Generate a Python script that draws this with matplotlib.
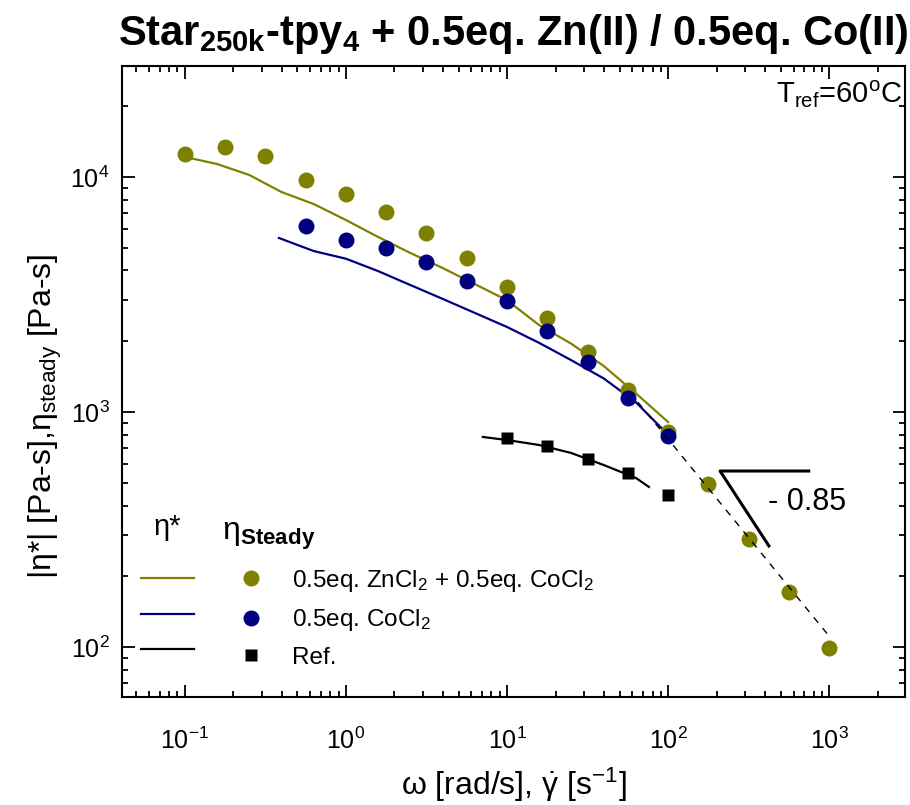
import matplotlib
matplotlib.use("Agg")
import matplotlib.pyplot as plt
from matplotlib.lines import Line2D
import numpy as np

police = 'Liberation Sans'
plt.rcParams['font.family'] = [police, 'DejaVu Sans']
plt.rcParams['mathtext.fontset'] = 'custom'
plt.rcParams['mathtext.rm'] = police
plt.rcParams['mathtext.it'] = police + ':italic'
plt.rcParams['mathtext.bf'] = police + ':bold'
plt.rcParams['mathtext.default'] = 'regular'

# --- données ---
# eta* (lignes)
w_zn = [0.1, 0.158, 0.251, 0.398, 0.631, 1, 1.58, 2.51, 3.98, 6.31, 10, 15.8, 25.1, 39.8, 63.1, 100]
eta_zn = [12170, 11360, 10200, 8630, 7670, 6560, 5560, 4750, 4100, 3500, 2990, 2345, 1950, 1570, 1200, 906]

w_co = [0.384, 0.631, 1, 1.58, 2.51, 3.98, 6.31, 10, 15.8, 25.1, 39.8, 63.1, 100]
eta_co = [5500, 4840, 4490, 3980, 3470, 3030, 2640, 2300, 1970, 1660, 1390, 1100, 800]

w_ref = [7.08, 10, 15.8, 25.1, 39.8, 63.1, 76]
eta_ref = [783, 760, 724, 669, 595, 524, 480]

# eta steady (symboles)
g_zn = [0.1, 0.178, 0.316, 0.562, 1, 1.78, 3.16, 5.62, 10, 17.8, 31.6, 56.2, 100, 178, 316, 562, 1000]
st_zn = [12500, 13400, 12300, 9700, 8460, 7100, 5780, 4520, 3400, 2510, 1800, 1240, 822, 494, 289, 171, 99]

g_co = [0.562, 1, 1.78, 3.16, 5.62, 10, 17.8, 31.6, 56.2, 100]
st_co = [6190, 5400, 4990, 4350, 3610, 2970, 2210, 1630, 1150, 790]

g_ref = [10, 17.8, 31.6, 56.2, 100]
st_ref = [774, 716, 631, 550, 444]

# droite en pointillés et triangle de pente
fit_x = [65, 970]
fit_y = [1100, 114]
tri_x = [762, 210, 427]
tri_y = [561, 561, 266]

olive = '#808000'
navy = '#000080'

fig = plt.figure(figsize=(9.1, 8.05), dpi=100)
ax = fig.add_axes([0.134, 0.134, 0.8605, 0.784])

ax.plot(w_zn, eta_zn, color=olive, lw=1.6)
ax.plot(w_co, eta_co, color=navy, lw=1.6)
ax.plot(w_ref, eta_ref, color='black', lw=1.6)

ax.plot(fit_x, fit_y, color='black', lw=1.0, ls=(0, (5, 5)), zorder=4)

ax.plot(g_zn, st_zn, 'o', color=olive, ms=11.5, mec='none', zorder=3)
ax.plot(g_co, st_co, 'o', color=navy, ms=11.5, mec='none', zorder=3)
ax.plot(g_ref, st_ref, 's', color='black', ms=8.5, mec='none', zorder=3)

ax.plot(tri_x, tri_y, color='black', lw=2.2, solid_capstyle='butt')
ax.text(0.875, 0.309, '- 0.85', transform=ax.transAxes, fontsize=22,
        ha='center', va='center')

ax.set_xscale('log')
ax.set_yscale('log')
ax.set_xlim(10**-1.39, 10**3.47)
ax.set_ylim(10**1.787, 10**4.472)

for s in ax.spines.values():
    s.set_linewidth(1.5)
ax.tick_params(which='both', direction='in', top=True, right=True, width=1.3)
ax.tick_params(which='major', length=9, labelsize=18)
ax.tick_params(axis='x', which='major', pad=22)
ax.tick_params(axis='y', which='major', pad=9)
ax.tick_params(which='minor', length=4.5)

ax.set_xlabel('ω [rad/s], $\\dot{γ}$ [s$^{-1}$]', fontsize=23, va='center')
ax.xaxis.set_label_coords(0.5, -0.139)
ax.set_ylabel('|η*| [Pa-s],η$_{steady}$ [Pa-s]', fontsize=23, va='center')
ax.yaxis.set_label_coords(-0.098, 0.445)

fig.suptitle('Star$_{\\mathbf{250k}}$-tpy$_{\\mathbf{4}}$ + 0.5eq. Zn(II) / 0.5eq. Co(II)',
             fontsize=30, fontweight='bold', x=0.564, y=1 - 45 / 805, va='baseline')

ax.text(0.997, 0.955, 'T$_{ref}$=60$^{o}$C', transform=ax.transAxes,
        fontsize=21, ha='right', va='center')

# légende maison
ax.text(0.058, 0.27, 'η*', transform=ax.transAxes, fontsize=21,
        ha='center', va='center')
ax.text(0.128, 0.255, 'η$_{\\mathbf{Steady}}$', transform=ax.transAxes, fontsize=23,
        ha='left', va='center')

poignees = [Line2D([], [], color=olive, lw=1.6),
            Line2D([], [], color=navy, lw=1.6),
            Line2D([], [], color='black', lw=1.6),
            Line2D([], [], ls='none', marker='o', color=olive, ms=11.5, mec='none'),
            Line2D([], [], ls='none', marker='o', color=navy, ms=11.5, mec='none'),
            Line2D([], [], ls='none', marker='s', color='black', ms=8.5, mec='none')]
etiquettes = ['', '', '', '0.5eq. ZnCl$_2$ + 0.5eq. CoCl$_2$', '0.5eq. CoCl$_2$', 'Ref.']
ax.legend(poignees, etiquettes, ncol=2, loc='upper left', bbox_to_anchor=(0.024, 0.205),
          frameon=False, borderpad=0, borderaxespad=0,
          handlelength=2.2, handletextpad=0.57, columnspacing=0.68, labelspacing=0.56,
          prop={'size': 17.5})

plt.savefig('out.png', dpi=100)
